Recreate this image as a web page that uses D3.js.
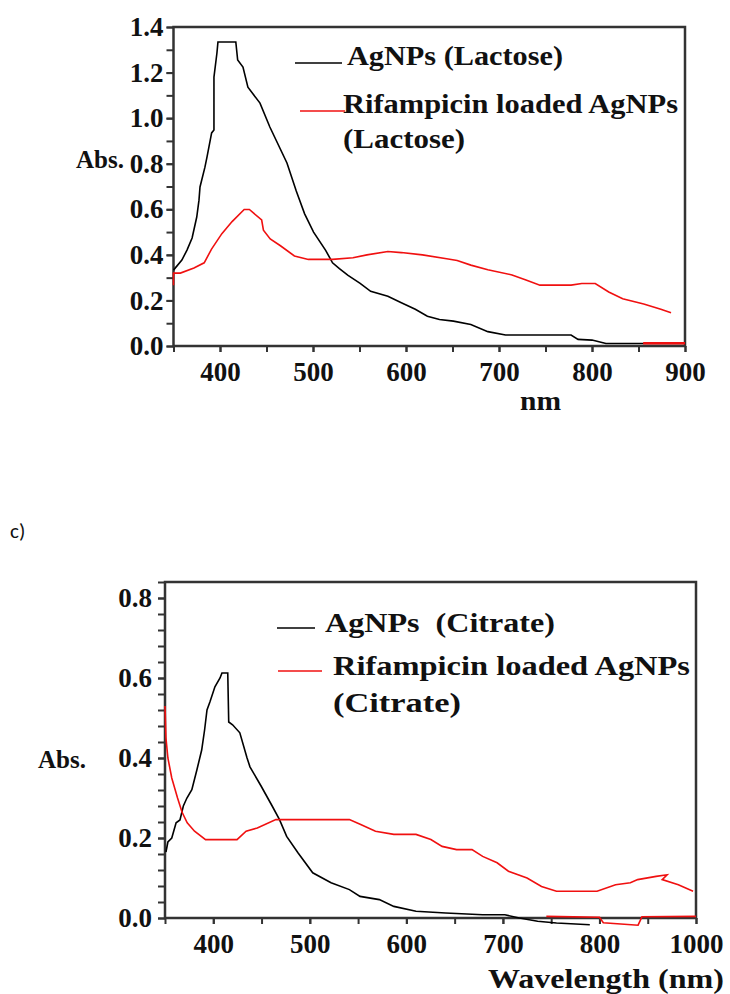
<!DOCTYPE html>
<html>
<head>
<meta charset="utf-8">
<script src="https://cdn.jsdelivr.net/npm/d3@7"></script>
<style>
  body { margin: 0; background: #fff; }
  svg { display: block; }
  .axis text { font-family: "Liberation Serif", "Times New Roman", serif; font-weight: bold; font-size: 27px; fill: #111; }
  .axis path, .axis line { stroke: #333; stroke-width: 2; }
  .lbl { font-family: "Liberation Serif", "Times New Roman", serif; font-weight: bold; font-size: 27px; fill: #111; white-space: pre; }
</style>
</head>
<body>
<div id="chart"></div>
<script>
// Panel 1: lactose, wavelength (nm) and absorbance
var lacAgWl  = [350, 359, 364.5, 370, 375, 377.4, 378.5, 383.8, 386, 391, 393.5, 393.5, 396.7, 397.8, 417, 419, 424.7, 430, 443, 453.6, 472, 482, 491, 500.6, 513.6, 521, 528.4, 537.7, 550.7, 562, 580.5, 595, 610, 623, 636, 651, 669.7, 688, 707, 744, 777.5, 785, 800, 815, 855.6, 900];
var lacAgAbs = [0.333, 0.377, 0.421, 0.474, 0.566, 0.64, 0.698, 0.785, 0.829, 0.935, 0.948, 1.18, 1.286, 1.334, 1.334, 1.255, 1.224, 1.136, 1.066, 0.961, 0.803, 0.68, 0.58, 0.50, 0.42, 0.365, 0.34, 0.31, 0.275, 0.24, 0.218, 0.19, 0.161, 0.131, 0.116, 0.109, 0.094, 0.063, 0.048, 0.048, 0.048, 0.029, 0.026, 0.011, 0.011, 0.011];
var lacRifWl  = [350, 350, 357.4, 372, 383, 390.9, 402, 413, 426, 431.6, 444.8, 446.7, 454, 465, 480, 495, 521, 543, 558, 580.5, 595, 617.7, 643.7, 655, 669.7, 688, 714, 729, 744, 777.5, 789, 803.5, 818, 833, 855.6, 874, 885];
var lacRifAbs = [0.267, 0.32, 0.32, 0.342, 0.365, 0.425, 0.493, 0.546, 0.599, 0.599, 0.553, 0.508, 0.47, 0.44, 0.395, 0.38, 0.38, 0.387, 0.40, 0.415, 0.41, 0.40, 0.383, 0.375, 0.355, 0.335, 0.312, 0.29, 0.267, 0.267, 0.274, 0.274, 0.237, 0.207, 0.184, 0.161, 0.146];
var lacRifBaseWl  = [855, 900];
var lacRifBaseAbs = [0.012, 0.012];
var lacXTicks = [400, 500, 600, 700, 800, 900];
var lacXTickLabels = ["400", "500", "600", "700", "800", "900"];
var lacYTicks = [0, 0.2, 0.4, 0.6, 0.8, 1.0, 1.2, 1.4];

// Panel 2: citrate
var citAgWl  = [351, 353, 357, 361.5, 365.5, 369, 372.7, 377.8, 383, 388, 391, 393.5, 396.5, 401.7, 407, 409, 415, 416, 420, 427.5, 435, 438, 449.5, 461, 468.6, 476, 487.7, 503, 522, 541, 552, 572, 587, 610, 640.7, 679, 702, 717, 736, 755.5, 790];
var citAgAbs = [0.165, 0.19, 0.20, 0.238, 0.245, 0.28, 0.30, 0.321, 0.37, 0.42, 0.47, 0.52, 0.54, 0.578, 0.60, 0.6125, 0.6125, 0.49, 0.483, 0.463, 0.40, 0.378, 0.33, 0.28, 0.246, 0.204, 0.163, 0.113, 0.088, 0.071, 0.054, 0.046, 0.029, 0.017, 0.0125, 0.008, 0.008, 0, -0.008, -0.0125, -0.017];
var citRifWl  = [350, 351, 353, 357, 360, 363, 367.6, 373, 380.6, 392, 424.6, 434, 445.6, 464.8, 541, 552.7, 568, 587, 610, 625.4, 637, 652, 668, 679, 694, 705.7, 725, 740, 755.5, 797.5, 816.7, 832, 839.6, 858.7, 870, 865, 881.7, 897];
var citRifAbs = [0.53, 0.45, 0.40, 0.35, 0.325, 0.30, 0.265, 0.238, 0.217, 0.196, 0.196, 0.217, 0.225, 0.246, 0.246, 0.234, 0.217, 0.209, 0.209, 0.196, 0.179, 0.171, 0.171, 0.154, 0.138, 0.117, 0.10, 0.079, 0.067, 0.067, 0.083, 0.088, 0.096, 0.104, 0.108, 0.096, 0.083, 0.067];
var citRifBaseWl  = [745, 800, 804, 840, 844, 900];
var citRifBaseAbs = [0.004, 0.002, -0.012, -0.018, 0.003, 0.004];
var citXTicks = [400, 500, 600, 700, 800, 900];
var citXTickLabels = ["400", "500", "600", "700", "800", "1000"];
var citYTicks = [0, 0.2, 0.4, 0.6, 0.8];

var svg = d3.select("#chart").append("svg").attr("width", 730).attr("height", 994);
svg.append("rect").attr("width", 730).attr("height", 994).attr("fill", "#fff");

function drawPanel(p) {
    var x = d3.scaleLinear().domain(p.xDomain).range([p.left, p.right]);
    var y = d3.scaleLinear().domain(p.yDomain).range([p.bottom, p.top]);
    var g = svg.append("g");

    // minor ticks
    g.append("g").attr("class", "axis").attr("transform", `translate(0,${p.bottom})`)
        .call(d3.axisBottom(x).tickValues(p.xMinor).tickSize(6).tickFormat(""))
        .select(".domain").remove();
    g.append("g").attr("class", "axis").attr("transform", `translate(${p.left},0)`)
        .call(d3.axisLeft(y).tickValues(p.yMinor).tickSize(7).tickFormat(""))
        .select(".domain").remove();

    // labelled ticks
    g.append("g").attr("class", "axis").attr("transform", `translate(0,${p.bottom})`)
        .call(d3.axisBottom(x).tickValues(p.xTicks).tickSize(6).tickPadding(10)
            .tickFormat((d, i) => p.xTickLabels[i]))
        .select(".domain").remove();
    g.append("g").attr("class", "axis").attr("transform", `translate(${p.left},0)`)
        .call(d3.axisLeft(y).tickValues(p.yTicks).tickSize(7).tickPadding(p.yPad)
            .tickFormat(d3.format(".1f")))
        .select(".domain").remove();

    // frame
    g.append("rect").attr("x", p.left).attr("y", p.top)
        .attr("width", p.right - p.left).attr("height", p.bottom - p.top)
        .attr("fill", "none").attr("stroke", "#333").attr("stroke-width", 2.5);

    var line = d3.line().x(d => x(d[0])).y(d => y(d[1]));
    p.series.forEach(s => {
        g.append("path").datum(d3.zip(s.wl, s.abs))
            .attr("d", line).attr("fill", "none")
            .attr("stroke", s.color).attr("stroke-width", s.width || 1.6);
    });

    // legend
    p.legend.forEach(l => {
        g.append("line").attr("x1", l.x1).attr("x2", l.x2).attr("y1", l.ly).attr("y2", l.ly)
            .attr("stroke", l.color).attr("stroke-width", 1.6);
        l.lines.forEach((t, i) => {
            g.append("text").attr("class", "lbl").attr("x", l.tx).attr("y", l.ty + i * l.lh)
                .attr("textLength", t[1]).attr("lengthAdjust", "spacingAndGlyphs").text(t[0]);
        });
    });

    g.append("text").attr("class", "lbl").attr("x", p.absX).attr("y", p.absY)
        .style("font-size", "25px").text("Abs.");
    g.append("text").attr("class", "lbl").attr("x", p.xTitleX).attr("y", p.xTitleY)
        .attr("textLength", p.xTitleW).attr("lengthAdjust", "spacingAndGlyphs").text(p.xTitle);
}

drawPanel({
    left: 173.5, right: 685, top: 27, bottom: 346,
    xDomain: [350, 900], yDomain: [0, 1.4],
    xTicks: lacXTicks, xTickLabels: lacXTickLabels, xMinor: d3.range(350, 901, 50),
    yTicks: lacYTicks, yMinor: d3.range(0, 1.41, 0.1), yPad: 3,
    series: [
        {wl: lacAgWl, abs: lacAgAbs, color: "#000"},
        {wl: lacRifWl, abs: lacRifAbs, color: "#f01010"},
        {wl: lacRifBaseWl, abs: lacRifBaseAbs, color: "#f01010", width: 2.5}
    ],
    legend: [
        {color: "#000", x1: 295, x2: 342, ly: 63, tx: 347, ty: 65, lh: 0, lines: [["AgNPs (Lactose)", 216]]},
        {color: "#f01010", x1: 300, x2: 345, ly: 111, tx: 343, ty: 113, lh: 35, lines: [["Rifampicin loaded AgNPs", 335], ["(Lactose)", 122]]}
    ],
    absX: 76, absY: 168,
    xTitle: "nm", xTitleX: 520, xTitleY: 410, xTitleW: 41
});

drawPanel({
    left: 165, right: 696, top: 582, bottom: 918,
    xDomain: [350, 900], yDomain: [0, 0.84],
    xTicks: citXTicks, xTickLabels: citXTickLabels, xMinor: d3.range(350, 901, 50),
    yTicks: citYTicks, yMinor: d3.range(0, 0.841, 0.04), yPad: 6,
    series: [
        {wl: citAgWl, abs: citAgAbs, color: "#000"},
        {wl: citRifWl, abs: citRifAbs, color: "#f01010"},
        {wl: citRifBaseWl, abs: citRifBaseAbs, color: "#f01010"}
    ],
    legend: [
        {color: "#000", x1: 277, x2: 315, ly: 628, tx: 325, ty: 632, lh: 0, lines: [["AgNPs  (Citrate)", 230]]},
        {color: "#f01010", x1: 278, x2: 322, ly: 671, tx: 333, ty: 675, lh: 37, lines: [["Rifampicin loaded AgNPs", 357], ["(Citrate)", 128]]}
    ],
    absX: 38, absY: 768,
    xTitle: "Wavelength (nm)", xTitleX: 488, xTitleY: 988, xTitleW: 236
});

svg.append("text").attr("x", 10).attr("y", 538)
    .style("font-family", "Carlito, 'Liberation Sans', 'Open Sans', sans-serif").style("font-size", "21px")
    .attr("fill", "#111").text("c)");
</script>
</body>
</html>
